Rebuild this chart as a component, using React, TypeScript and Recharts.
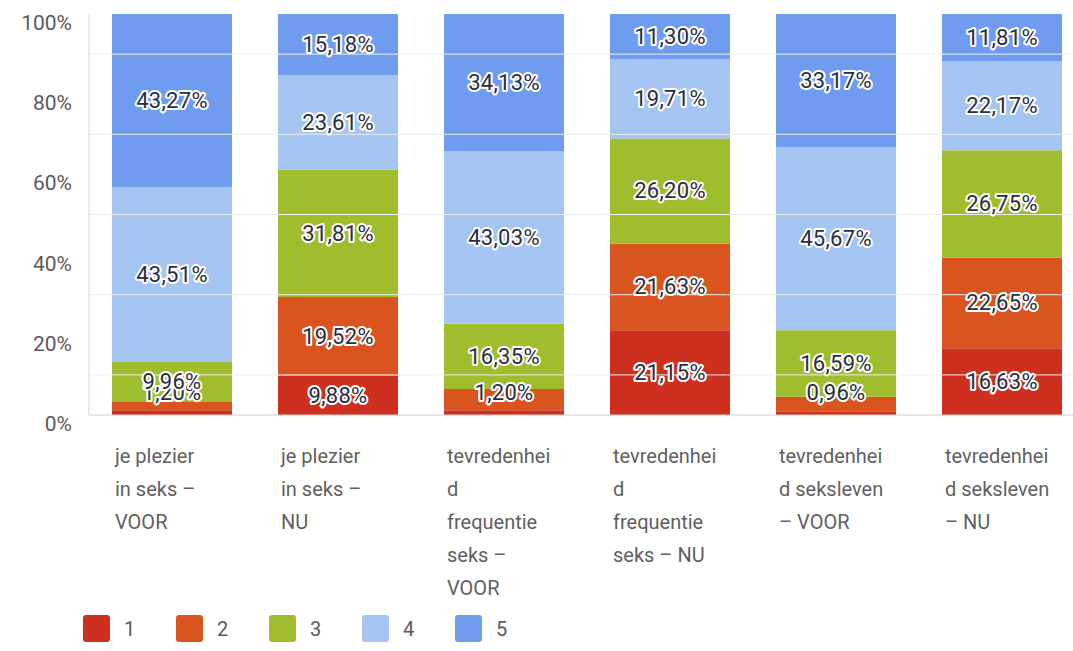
import React from "react";
import { BarChart, Bar, XAxis, YAxis, ReferenceLine, LabelList } from "recharts";

// categories (full text) and how they wrap under the axis
const categories = [
  "je plezier in seks – VOOR",
  "je plezier in seks – NU",
  "tevredenheid frequentie seks – VOOR",
  "tevredenheid frequentie seks – NU",
  "tevredenheid seksleven – VOOR",
  "tevredenheid seksleven – NU",
];
const categoryLines = [
  ["je plezier", "in seks –", "VOOR"],
  ["je plezier", "in seks –", "NU"],
  ["tevredenhei", "d", "frequentie", "seks –", "VOOR"],
  ["tevredenhei", "d", "frequentie", "seks – NU"],
  ["tevredenhei", "d seksleven", "– VOOR"],
  ["tevredenhei", "d seksleven", "– NU"],
];

// answer share per score, percent
const score1 = [1.2, 9.88, 1.2, 21.15, 0.96, 16.63];
const score2 = [2.06, 19.52, 5.29, 21.63, 3.61, 22.65];
const score3 = [9.96, 31.81, 16.35, 26.2, 16.59, 26.75];
const score4 = [43.51, 23.61, 43.03, 19.71, 45.67, 22.17];
const score5 = [43.27, 15.18, 34.13, 11.3, 33.17, 11.81];

const seriesNames = ["1", "2", "3", "4", "5"];
const seriesColors = ["#cd301e", "#d9541f", "#a0bd2d", "#a4c4f2", "#6f9cef"];
const yTicks = [0, 20, 40, 60, 80, 100];
const gridValues = [10, 30, 50, 70, 90];

const FONT = "Roboto, 'Noto Sans', sans-serif";

const data = categories.map((name, i) => ({
  name,
  s1: score1[i],
  s2: score2[i],
  s3: score3[i],
  s4: score4[i],
  s5: score5[i],
}));

const fmt = (v: number) => v.toFixed(2).replace(".", ",") + "%";

const makeLabel = (first: boolean) => (props: any) => {
  const { x, y, width, height, value } = props;
  if (value == null) return null;
  let cy = y + height / 2;
  if (height < 24) {
    if (!first) return null;
    cy = y + height - 23;
  }
  return (
    <text
      x={x + width / 2}
      y={cy}
      textAnchor="middle"
      dominantBaseline="central"
      fontFamily={FONT}
      fontSize={22}
      letterSpacing={0.3}
      fill="#2b2d40"
      stroke="#ffffff"
      strokeWidth={4}
      strokeLinejoin="round"
      paintOrder="stroke"
    >
      {fmt(value)}
    </text>
  );
};

const CategoryTick = (props: any) => {
  const { x, y, index } = props;
  const lines = categoryLines[index] || [];
  return (
    <g>
      {lines.map((l, i) => (
        <text
          key={i}
          x={x - 57}
          y={y + 41 + i * 33}
          textAnchor="start"
          dominantBaseline="central"
          fontFamily={FONT}
          fontSize={20}
          fill="#5f5f5f"
        >
          {l}
        </text>
      ))}
    </g>
  );
};

const PercentTick = (props: any) => {
  const { x, y, payload } = props;
  return (
    <text
      x={x}
      y={y + 9}
      textAnchor="end"
      dominantBaseline="central"
      fontFamily={FONT}
      fontSize={21}
      fill="#5a5a5a"
    >
      {payload.value}%
    </text>
  );
};

export default function App() {
  const keys = ["s1", "s2", "s3", "s4", "s5"];
  return (
    <div
      style={{
        position: "absolute",
        left: 0,
        top: 0,
        width: 1073,
        height: 651,
        overflow: "hidden",
        background: "#fff",
      }}
    >
      <BarChart
        width={1100}
        height={651}
        data={data}
        margin={{ top: 14, right: 15, left: 0, bottom: 0 }}
      >
        {gridValues.map((v) => (
          <ReferenceLine key={v} y={v} stroke="#ededed" strokeWidth={1} />
        ))}
        <XAxis
          dataKey="name"
          height={236}
          interval={0}
          tickLine={false}
          tickSize={0}
          tickMargin={0}
          axisLine={{ stroke: "#d0d0d0" }}
          tick={<CategoryTick />}
        />
        <YAxis
          width={89}
          domain={[0, 100]}
          ticks={yTicks}
          tickLine={false}
          tickSize={0}
          tickMargin={17}
          axisLine={{ stroke: "#d6d6d6" }}
          tick={<PercentTick />}
        />
        {keys.map((k, i) => (
          <Bar
            key={k}
            dataKey={k}
            name={seriesNames[i]}
            stackId="a"
            fill={seriesColors[i]}
            barSize={120}
            isAnimationActive={false}
          >
            <LabelList dataKey={k} content={makeLabel(i === 0)} />
          </Bar>
        ))}
      </BarChart>
      <div
        style={{
          position: "absolute",
          left: 83,
          top: 615,
          display: "flex",
          fontFamily: FONT,
          fontSize: 20,
          color: "#5a5a5a",
        }}
      >
        {seriesNames.map((n, i) => (
          <div
            key={n}
            style={{ display: "flex", alignItems: "center", width: 93 }}
          >
            <div
              style={{
                width: 27,
                height: 27,
                borderRadius: 3,
                background: seriesColors[i],
                marginRight: 14,
              }}
            />
            <span>{n}</span>
          </div>
        ))}
      </div>
    </div>
  );
}
